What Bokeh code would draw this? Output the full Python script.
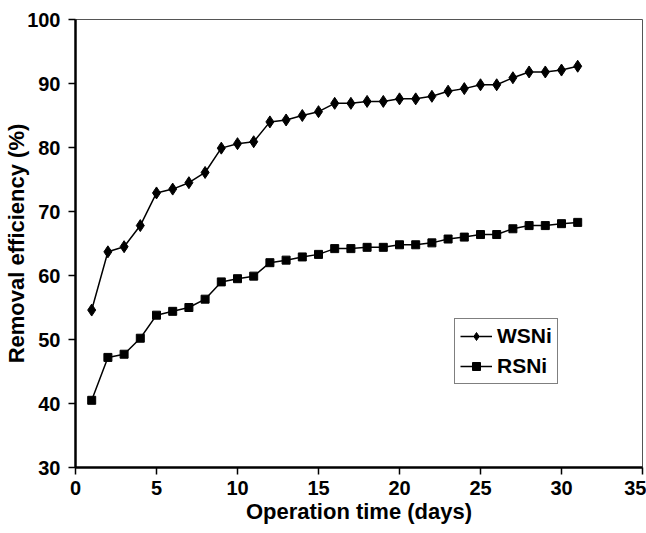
from bokeh.plotting import figure
from bokeh.models import Range1d, FixedTicker, Legend, LegendItem
from bokeh.embed import file_html
from bokeh.resources import INLINE

days = list(range(1, 32))
wsni = [54.6, 63.7, 64.5, 67.8, 72.9, 73.5, 74.5, 76.1, 79.9, 80.6, 80.9, 84.0, 84.3, 85.0, 85.6,
        86.9, 86.9, 87.2, 87.2, 87.6, 87.6, 88.0, 88.8, 89.2, 89.8, 89.8, 90.9, 91.8, 91.8, 92.1, 92.7]
rsni = [40.5, 47.2, 47.7, 50.2, 53.8, 54.4, 55.0, 56.3, 59.0, 59.5, 59.9, 62.0, 62.4, 62.9, 63.3,
        64.2, 64.2, 64.4, 64.4, 64.8, 64.8, 65.1, 65.7, 66.0, 66.4, 66.4, 67.3, 67.8, 67.8, 68.1, 68.3]
x_ticks = [0, 5, 10, 15, 20, 25, 30, 35]
y_ticks = [30, 40, 50, 60, 70, 80, 90, 100]

FONT = "Liberation Sans"

p = figure(frame_width=567, frame_height=448, output_backend="svg", toolbar_location=None,
           x_range=Range1d(0, 35), y_range=Range1d(30, 100),
           min_border_left=75, min_border_right=4, min_border_top=19, min_border_bottom=66)
p.grid.visible = False
p.outline_line_color = "#555555"
p.outline_line_width = 1

for ax in (p.xaxis[0], p.yaxis[0]):
    ax.axis_line_width = 2.5
    ax.axis_line_color = "black"
    ax.major_tick_line_width = 1.5
    ax.major_tick_in = 0
    ax.major_tick_out = 7
    ax.minor_tick_line_color = None
    ax.major_label_text_font = FONT
    ax.major_label_text_font_style = "bold"
    ax.major_label_text_font_size = "20px"
    ax.major_label_text_color = "black"
    ax.axis_label_text_font = FONT
    ax.axis_label_text_font_style = "bold"
    ax.axis_label_text_font_size = "22px"
    ax.axis_label_text_color = "black"

p.xaxis.ticker = FixedTicker(ticks=x_ticks)
p.yaxis.ticker = FixedTicker(ticks=y_ticks)
p.xaxis.axis_label = "Operation time (days)"
p.yaxis.axis_label = "Removal efficiency (%)"
p.xaxis.axis_label_standoff = 1
p.yaxis.axis_label_standoff = -5
p.xaxis.major_label_standoff = 6
p.yaxis.major_label_standoff = 8

l1 = p.line(days, wsni, line_color="black", line_width=1.5)
m1 = p.scatter(days, wsni, marker="diamond", size=12, color="black")
l2 = p.line(days, rsni, line_color="black", line_width=1.5)
m2 = p.scatter(days, rsni, marker="square", size=8, color="black")

legend = Legend(items=[LegendItem(label="WSNi", renderers=[l1, m1]),
                       LegendItem(label="RSNi", renderers=[l2, m2])],
                location=(379, 83))
legend.label_text_font = FONT
legend.label_text_font_style = "bold"
legend.label_text_font_size = "21px"
legend.label_text_color = "black"
legend.border_line_color = "black"
legend.border_line_width = 1
legend.padding = 5
legend.spacing = 6
legend.glyph_width = 32
legend.label_standoff = 5
legend.margin = 0
p.add_layout(legend, "center")

open("out.html", "w").write(file_html(p, INLINE))
